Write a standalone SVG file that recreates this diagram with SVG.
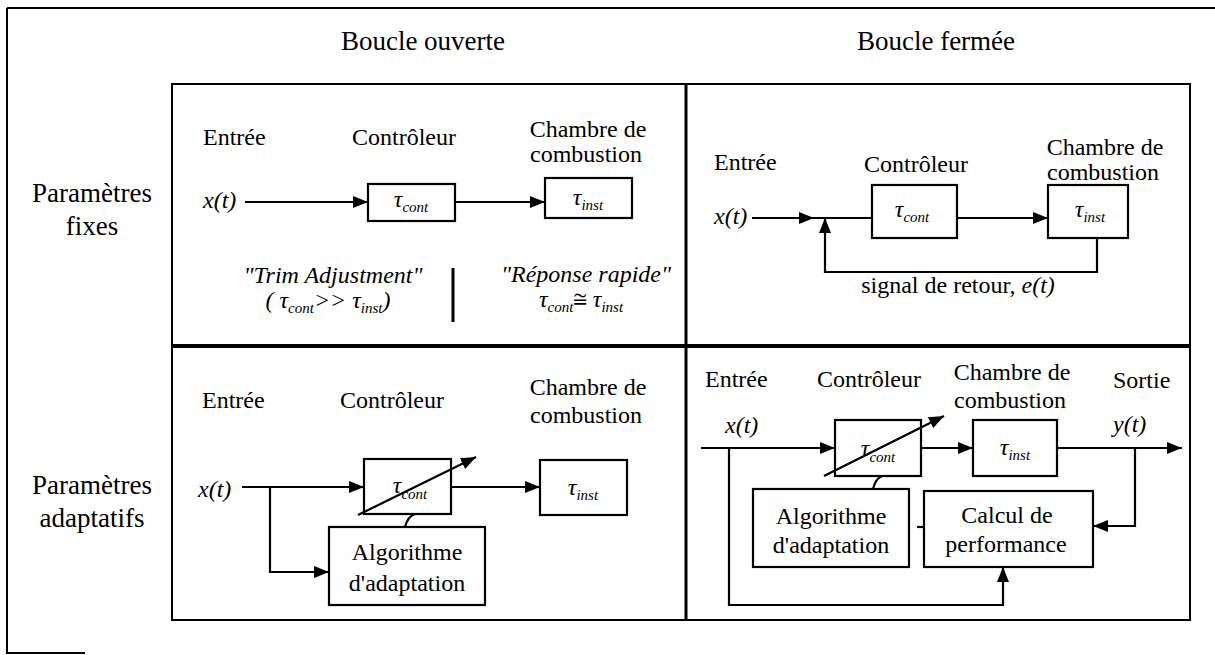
<svg xmlns="http://www.w3.org/2000/svg" width="1215" height="655" viewBox="0 0 1215 655" font-family="Liberation Serif, Tinos, Times New Roman, Times, Noto Serif, DejaVu Serif, FreeSerif, serif">
<style>
text, tspan { font-family: "Liberation Serif", Tinos, "Times New Roman", Times, "Noto Serif", "DejaVu Serif", FreeSerif, serif; fill: #000; }
.h{font-size:27px}
.l{font-size:24px}
.it{font-style:italic}
.m{text-anchor:middle}
.sub{font-size:15px}
.box{fill:#fff;stroke:#000;stroke-width:2.2}
.ln{fill:none;stroke:#000;stroke-width:2.2}
.frame{fill:none;stroke:#000;stroke-width:2}
</style>
<defs>
<marker id="ah" markerUnits="userSpaceOnUse" markerWidth="15" markerHeight="12" refX="15" refY="6" orient="auto"><path d="M0,0 L15,6 L0,12 z" fill="#000"/></marker>
</defs>
<rect width="1215" height="655" fill="#fff"/>
<g id="frame">
<path class="frame" d="M7,8 L1215,8 M7,8 L7,653 L85,653"/>
<rect class="frame" x="172" y="84" width="1018" height="536"/>
<path fill="none" stroke="#000" stroke-width="3" d="M686,84 L686,620"/>
<path fill="none" stroke="#000" stroke-width="4" d="M172,346 L1190,346"/>
</g>
<g id="headings">
<text class="h m" x="423" y="50">Boucle ouverte</text>
<text class="h m" x="936" y="50">Boucle fermée</text>
<text class="h m" x="92" y="202">Paramètres</text>
<text class="h m" x="92" y="235">fixes</text>
<text class="h m" x="92" y="494">Paramètres</text>
<text class="h m" x="92" y="527">adaptatifs</text>
</g>
<g id="connectors">
<path class="ln" d="M245,202 L368,202" marker-end="url(#ah)"/>
<path class="ln" d="M455,202 L545,202" marker-end="url(#ah)"/>
<path fill="none" stroke="#000" stroke-width="3" d="M453,268 L453,322"/>
<path class="ln" d="M752,218 L814,218" marker-end="url(#ah)"/>
<path class="ln" d="M812,218 L872,218"/>
<path class="ln" d="M957,218 L1048,218" marker-end="url(#ah)"/>
<path class="ln" d="M1097,238 L1097,272 L825,272 L825,218" marker-end="url(#ah)"/>
<path class="ln" d="M242,487 L364,487" marker-end="url(#ah)"/>
<path class="ln" d="M270,487 L270,572 L329,572" marker-end="url(#ah)"/>
<path class="ln" d="M451,487 L540,487" marker-end="url(#ah)"/>
<path class="ln" d="M405,527 Q408,516 415,514"/>
<path class="ln" d="M701,448 L835,448" marker-end="url(#ah)"/>
<path class="ln" d="M729,448 L729,605 L1003,605 L1003,567" marker-end="url(#ah)"/>
<path class="ln" d="M921,448 L973,448" marker-end="url(#ah)"/>
<path class="ln" d="M1057,448 L1182,448" marker-end="url(#ah)"/>
<path class="ln" d="M1135,448 L1135,526 L1093,526" marker-end="url(#ah)"/>
<path class="ln" d="M917,527 L924,527"/>
<path class="ln" d="M873,489 Q876,478 882,476"/>
</g>
<g id="tl-labels">
<text class="l" x="203" y="145">Entrée</text>
<text class="l" x="352" y="145">Contrôleur</text>
<text class="l m" x="588" y="137">Chambre de</text>
<text class="l m" x="586" y="162">combustion</text>
<text class="l it" x="203" y="208">x(t)</text>
<text class="l it m" x="333" y="283">"Trim Adjustment"</text>
<text class="l it m" x="328" y="308">( τ<tspan class="sub" dy="5">cont</tspan><tspan dy="-5">&gt;&gt; τ</tspan><tspan class="sub" dy="5">inst</tspan><tspan dy="-5">)</tspan></text>
<text class="l it m" x="586" y="282">"Réponse rapide"</text>
<text class="l it m" x="581" y="307">τ<tspan class="sub" dy="5">cont</tspan><tspan dy="-5" font-style="normal">≅ </tspan><tspan>τ</tspan><tspan class="sub" dy="5">inst</tspan></text>
</g>
<g id="tl-cont"><rect class="box" x="368" y="184" width="87" height="37"/><text class="l it m" x="411" y="207">τ<tspan class="sub" dy="5">cont</tspan></text></g>
<g id="tl-inst"><rect class="box" x="545" y="178" width="87" height="40"/><text class="l it m" x="588" y="205">τ<tspan class="sub" dy="5">inst</tspan></text></g>
<g id="tr-labels">
<text class="l" x="714" y="170">Entrée</text>
<text class="l" x="864" y="172">Contrôleur</text>
<text class="l m" x="1105" y="155">Chambre de</text>
<text class="l m" x="1103" y="180">combustion</text>
<text class="l it" x="714" y="224">x(t)</text>
<text class="l m" x="958" y="293">signal de retour, <tspan class="it">e(t)</tspan></text>
</g>
<g id="tr-cont"><rect class="box" x="872" y="185" width="85" height="53"/><text class="l it m" x="912" y="217">τ<tspan class="sub" dy="5">cont</tspan></text></g>
<g id="tr-inst"><rect class="box" x="1048" y="185" width="80" height="53"/><text class="l it m" x="1090" y="217">τ<tspan class="sub" dy="5">inst</tspan></text></g>
<g id="bl-labels">
<text class="l" x="202" y="408">Entrée</text>
<text class="l" x="340" y="408">Contrôleur</text>
<text class="l m" x="588" y="395">Chambre de</text>
<text class="l m" x="586" y="423">combustion</text>
<text class="l it" x="198" y="497">x(t)</text>
</g>
<g id="bl-cont"><rect class="box" x="364" y="459" width="87" height="55"/><text class="l it m" x="410" y="493">τ<tspan class="sub" dy="6">cont</tspan></text>
<path class="ln" d="M358,515 L476,457" marker-end="url(#ah)"/></g>
<g id="bl-inst"><rect class="box" x="540" y="460" width="87" height="55"/><text class="l it m" x="583" y="495">τ<tspan class="sub" dy="5">inst</tspan></text></g>
<g id="bl-algo"><rect class="box" x="329" y="527" width="156" height="78"/><text class="l m" x="407" y="560">Algorithme</text><text class="l m" x="407" y="591">d'adaptation</text></g>
<g id="br-labels">
<text class="l" x="705" y="387">Entrée</text>
<text class="l" x="817" y="387">Contrôleur</text>
<text class="l m" x="1012" y="380">Chambre de</text>
<text class="l m" x="1010" y="408">combustion</text>
<text class="l" x="1113" y="388">Sortie</text>
<text class="l it" x="725" y="433">x(t)</text>
<text class="l it" x="1113" y="432">y(t)</text>
</g>
<g id="br-cont"><rect class="box" x="835" y="420" width="86" height="56"/><text class="l it m" x="878" y="456">τ<tspan class="sub" dy="6">cont</tspan></text>
<path class="ln" d="M824,476 L944,416" marker-end="url(#ah)"/></g>
<g id="br-inst"><rect class="box" x="973" y="420" width="84" height="56"/><text class="l it m" x="1015" y="455">τ<tspan class="sub" dy="5">inst</tspan></text></g>
<g id="br-algo"><rect class="box" x="753" y="489" width="156" height="78"/><text class="l m" x="831" y="524">Algorithme</text><text class="l m" x="831" y="553">d'adaptation</text></g>
<g id="br-perf"><rect class="box" x="924" y="491" width="169" height="76"/><text class="l m" x="1007" y="523">Calcul de</text><text class="l m" x="1006" y="552">performance</text></g>
</svg>
